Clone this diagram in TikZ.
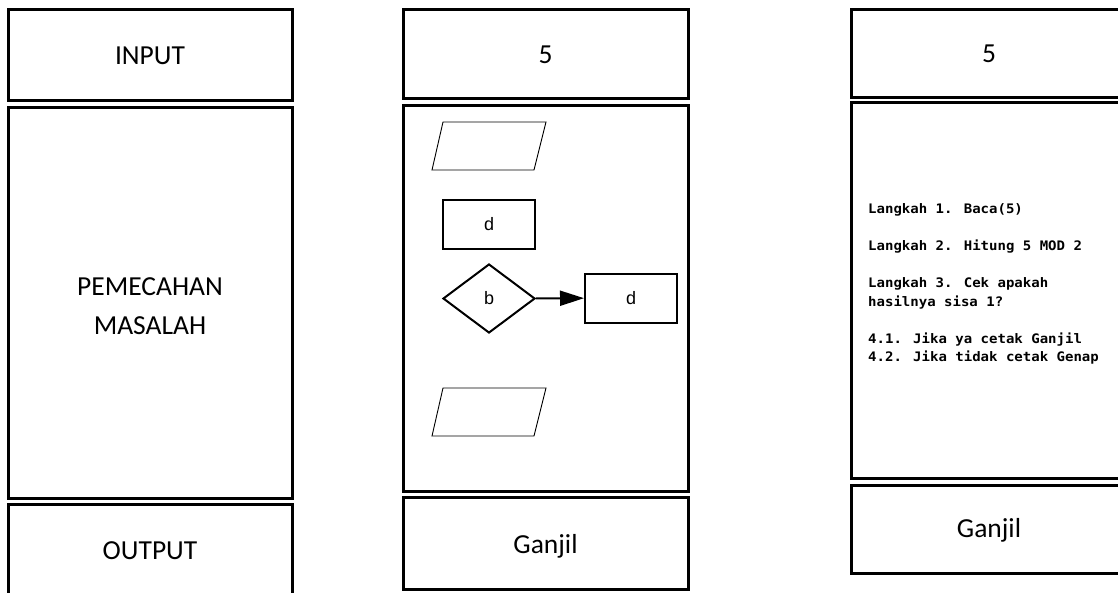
\documentclass[tikz,border=0pt]{standalone}
\usepackage{fontspec}
\setmainfont{Carlito}
\newfontfamily\flowfont{Liberation Sans}
\newfontfamily\codefont[FakeStretch=1.07]{DejaVu Sans Mono}
\usetikzlibrary{shapes.geometric,arrows.meta}
\tikzset{
  frame/.style={draw, line width=3pt},
  boxlabel/.style={anchor=base, inner sep=0pt, font=\fontsize{27.5}{33}\selectfont},
  process/.style={rectangle, draw, line width=2pt, minimum width=92pt, minimum height=49pt,
    inner sep=0pt, font=\flowfont\fontsize{18}{21}\selectfont},
  decision/.style={diamond, draw, line width=2pt, minimum width=92pt, minimum height=69pt,
    inner sep=0pt, font=\flowfont\fontsize{18}{21}\selectfont},
  iobox/.style={draw, line width=0.9pt},
  flow/.style={line width=2pt, -{Triangle[length=24pt,width=15pt]}},
  steptext/.style={anchor=base west, inner sep=0pt,
    font=\codefont\bfseries\fontsize{13.1}{18.6}\selectfont}
}
\begin{document}
\begin{tikzpicture}[x=1pt,y=-1pt]
\useasboundingbox (0,0) rectangle (1118,592);

% column 1: generic scheme
\draw[frame] (8,9) rectangle (292,100);
\draw[frame] (8,107) rectangle (292,498);
\draw[frame] (8,504) rectangle (292,620);
\node[boxlabel] (in1) at (150,64) {INPUT};
\node[boxlabel] (pm1) at (150,295) {PEMECAHAN};
\node[boxlabel] (pm2) at (150,334) {MASALAH};
\node[boxlabel] (out1) at (150,559) {OUTPUT};

% column 2: flowchart
\draw[frame] (403,9) rectangle (688,98);
\draw[frame] (403,105) rectangle (688,491);
\draw[frame] (403,497) rectangle (688,589);
\node[boxlabel] (in2) at (545.5,63) {5};
\node[boxlabel] (out2) at (545.5,553) {Ganjil};

\draw[iobox] (432,170) -- (443,122) -- (546,122) -- (534,170) -- cycle;
\node[process] (proc1) at (489,224.5) {d};
\node[decision] (dec) at (489,298.5) {b};
\node[process] (proc2) at (631,298) {d};
\draw[flow] (dec) -- (proc2);
\draw[iobox] (432,436) -- (443,388) -- (546,388) -- (534,436) -- cycle;

% column 3: algorithm steps
\draw[frame] (851,9) rectangle (1140,97);
\draw[frame] (851,102) rectangle (1140,478);
\draw[frame] (851,485) rectangle (1140,573);
\node[boxlabel] (in3) at (989,62) {5};
\node[boxlabel] (out3) at (989,537) {Ganjil};

\node[steptext] (s1) at (868,213) {Langkah 1. Baca(5)};
\node[steptext] (s2) at (868,250.2) {Langkah 2. Hitung 5 MOD 2};
\node[steptext] (s3a) at (868,287.4) {Langkah 3. Cek apakah};
\node[steptext] (s3b) at (868,306) {hasilnya sisa 1?};
\node[steptext] (s41) at (868,343.2) {4.1. Jika ya cetak Ganjil};
\node[steptext] (s42) at (868,361.8) {4.2. Jika tidak cetak Genap};
\end{tikzpicture}
\end{document}
